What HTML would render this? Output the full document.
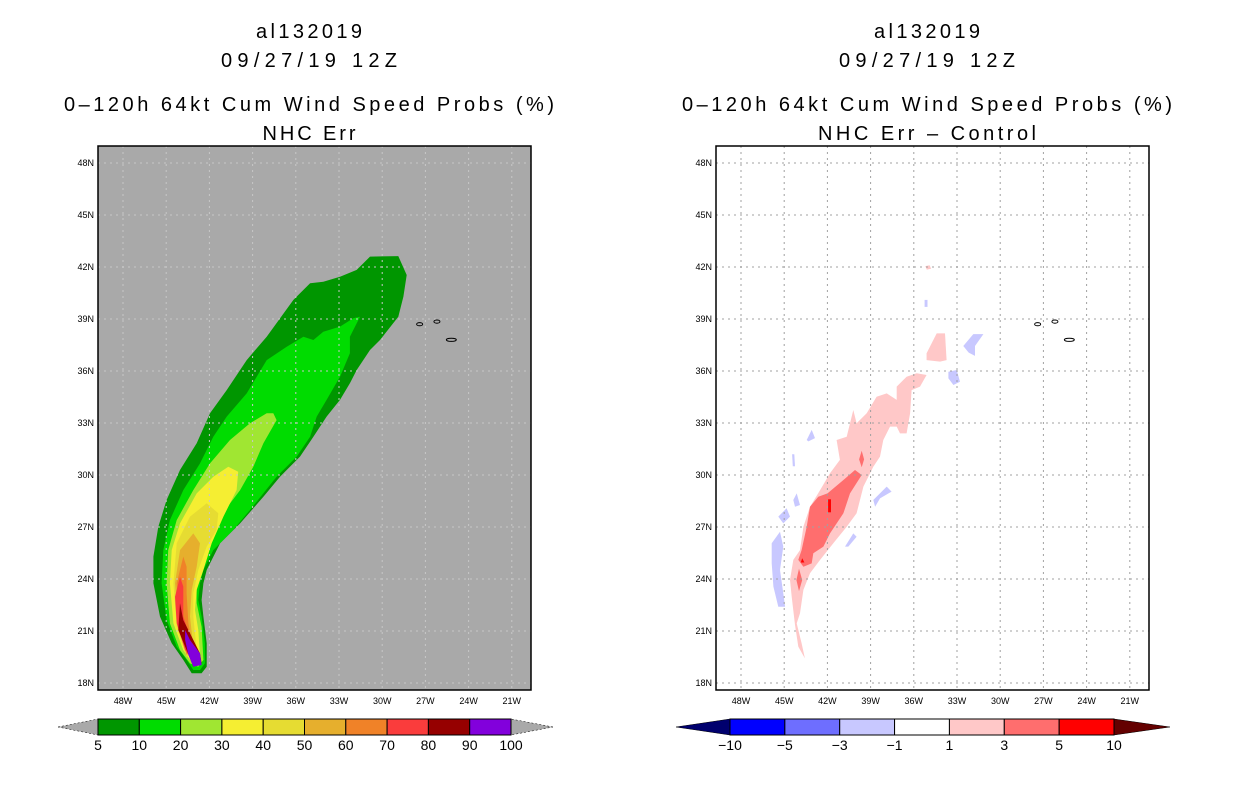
<!DOCTYPE html>
<html><head><meta charset="utf-8"><style>
body{margin:0;background:#fff;}
svg{display:block;font-family:"Liberation Sans",sans-serif;}
</style></head><body>
<svg id="chart" width="1236" height="800" viewBox="0 0 1236 800"></svg>
<script>
const latTicks=[48,45,42,39,36,33,30,27,24,21,18];
const lonTicks=[48,45,42,39,36,33,30,27,24,21];
const leftLevels=[5,10,20,30,40,50,60,70,80,90,100];
const leftColors=["#009600","#00dc00","#a0e632","#f5ee32","#e6dc32","#e6af2d","#f08228","#fa3c3c","#960000","#8200dc"];
const rightLevels=[-10,-5,-3,-1,1,3,5,10];
const rightColors=["#0000ff","#6e6eff","#c8c8ff","#ffffff","#ffc8c8","#ff6e6e","#ff0000"];
const p5=[[30.85,42.6],[28.88,42.63],[28.3,41.54],[28.53,40.29],[28.88,39.13],[30.15,37.79],[30.85,37.21],[31.77,36.06],[32.24,35.29],[32.93,34.33],[33.86,33.37],[34.78,32.21],[35.71,31.06],[37.1,29.9],[38.25,28.75],[39.87,27.21],[41.26,26.06],[42.19,24.52],[42.42,23.75],[42.54,22.79],[42.42,21.83],[42.19,20.29],[42.19,18.94],[42.54,18.56],[43.23,18.56],[43.81,19.33],[44.62,20.29],[45.43,21.83],[45.89,23.75],[45.89,25.29],[45.55,27.02],[44.97,28.56],[44.04,30.29],[42.88,31.83],[41.96,33.56],[40.8,34.9],[39.41,36.63],[38.02,37.98],[36.17,40.1],[35.01,41.06],[34.09,41.15],[32.93,41.44],[31.77,41.83]];
const p10=[[31.54,39.13],[32.24,37.98],[32.24,37.02],[32.93,35.67],[33.86,34.33],[34.55,33.37],[35.01,32.21],[35.94,31.06],[37.33,29.9],[39.18,27.98],[40.34,26.83],[41.73,25.67],[42.42,24.52],[42.65,23.75],[42.77,22.79],[42.54,21.83],[42.31,20.29],[42.31,19.13],[42.65,18.75],[43.12,18.75],[43.58,19.33],[44.27,20.1],[44.97,21.63],[45.32,23.75],[45.2,25.67],[44.74,27.4],[43.81,29.13],[42.65,30.67],[41.73,32.21],[40.8,33.37],[39.41,34.71],[38.02,36.63],[36.63,37.4],[35.47,37.98],[34.78,37.79],[34.09,38.27],[32.93,38.56],[32.01,39.04]];
const p20=[[37.56,33.56],[37.33,33.17],[38.25,31.83],[38.95,30.48],[39.87,29.13],[41.26,27.6],[42.19,26.25],[42.65,24.9],[42.88,23.75],[42.88,22.6],[42.54,21.25],[42.42,19.33],[42.77,18.94],[43.35,19.13],[44.04,19.9],[44.74,21.44],[44.97,23.75],[44.86,25.67],[44.27,27.4],[43.12,29.13],[41.96,30.67],[40.57,32.02],[39.18,32.98],[38.02,33.56]];
const p30=[[40.69,30.48],[40.0,30.19],[40.11,29.13],[41.03,27.6],[41.84,26.06],[42.42,24.52],[42.88,23.37],[43.0,22.21],[42.77,21.06],[42.65,19.52],[43.0,19.13],[43.35,19.33],[43.81,19.9],[44.5,21.44],[44.74,23.75],[44.62,25.67],[44.04,27.21],[42.88,28.94],[41.73,29.9]];
const p40=[[42.19,28.37],[41.38,27.79],[41.5,26.83],[42.19,25.87],[42.77,24.52],[43.12,23.17],[43.12,21.83],[42.88,19.9],[43.58,19.52],[44.27,21.25],[44.5,23.75],[44.27,26.06],[43.35,27.6]];
const p50=[[43.12,26.63],[42.65,26.06],[42.88,24.71],[43.23,23.37],[43.35,21.83],[43.12,20.1],[43.58,19.71],[44.16,21.44],[44.39,23.75],[44.04,25.67]];
const p60=[[43.81,25.29],[43.58,24.71],[43.58,23.17],[43.46,21.44],[43.12,19.9],[43.58,19.62],[44.04,21.44],[44.27,23.75]];
const p70=[[44.04,24.13],[43.81,23.56],[43.81,21.83],[43.35,20.67],[42.77,19.52],[43.12,19.33],[43.69,19.9],[44.27,21.44],[44.39,22.98]];
const p80=[[44.04,22.6],[43.81,21.63],[43.35,20.87],[42.65,19.71],[42.54,19.13],[43.12,18.94],[43.58,19.9],[44.16,21.06]];
const p90=[[43.69,21.06],[43.35,20.48],[42.65,19.71],[42.54,19.04],[43.12,18.94],[43.46,19.62],[43.69,20.48]];
const leftPolys=[p5,p10,p20,p30,p40,p50,p60,p70,p80,p90];
const pinkMain=[[44.6,23.94],[44.37,25.1],[43.9,25.67],[43.67,27.02],[43.21,28.17],[42.51,29.13],[41.82,30.1],[41.13,30.87],[41.36,32.02],[40.66,32.21],[40.2,33.75],[39.97,32.98],[39.27,33.56],[38.58,34.52],[37.88,34.71],[37.19,34.33],[37.19,35.1],[36.5,35.67],[35.8,35.87],[35.11,35.77],[35.57,35.1],[36.15,34.9],[36.26,33.56],[36.5,32.4],[36.96,32.4],[37.19,32.79],[37.65,32.79],[38.12,32.02],[38.35,31.06],[38.81,30.48],[39.5,29.33],[39.97,27.79],[40.66,27.02],[41.59,26.06],[42.51,25.1],[43.21,24.33],[43.67,23.37],[43.9,22.02],[44.13,21.44],[43.79,20.29],[43.56,19.42],[44.02,20.1],[44.25,21.35],[44.48,22.98]];
const pinkB=[[35.11,37.02],[34.41,38.17],[33.83,38.17],[33.72,36.63],[34.18,36.54],[35.11,36.63]];
const pinkC=[[35.2,42.05],[34.9,42.1],[34.8,41.9],[35.1,41.85]];
const red3=[[41.99,28.94],[40.89,29.71],[40.08,30.29],[39.62,30.0],[40.43,28.94],[40.89,27.79],[41.82,26.63],[42.28,25.87],[42.98,25.48],[43.09,24.9],[43.67,24.71],[44.02,25.1],[43.79,25.67],[43.44,27.02],[43.21,28.17],[42.63,28.75]];
const red3b=[[39.62,31.4],[39.45,30.9],[39.62,30.45],[39.8,30.9]];
const red3c=[[43.97,24.6],[43.75,23.94],[43.97,23.3],[44.15,23.94]];
const red5a=[[41.75,28.6],[41.95,28.6],[41.95,27.85],[41.75,27.85]];
const red5b=[[43.75,25.2],[43.6,24.95],[43.85,24.95]];
const blueA=[[45.87,26.06],[45.29,26.73],[45.06,25.87],[45.29,24.52],[45.06,23.17],[44.94,22.4],[45.41,22.4],[45.75,23.56],[45.87,24.9]];
const blueB=[[45.41,27.6],[44.83,28.08],[44.6,27.6],[45.06,27.21]];
const blueC=[[44.37,28.56],[44.13,28.94],[43.9,28.27],[44.25,28.17]];
const blueD=[[43.44,32.02],[43.09,32.6],[42.86,32.13],[43.32,31.94]];
const blueE=[[38.81,28.56],[37.88,29.33],[37.54,29.04],[38.35,28.65],[38.69,28.17]];
const blueF=[[40.78,25.87],[40.2,26.63],[39.97,26.44],[40.55,25.87]];
const blueG=[[32.56,37.44],[31.87,38.13],[31.17,38.13],[31.75,37.44],[31.75,36.87],[32.19,37.06]];
const blueH=[[33.6,35.96],[33.02,36.06],[32.79,35.38],[33.25,35.19],[33.6,35.58]];
const blueI=[[35.25,40.1],[35.05,40.1],[35.05,39.7],[35.25,39.7]];
const blueJ=[[44.45,31.2],[44.3,31.2],[44.25,30.5],[44.4,30.5]];
const rightPolys=[[pinkMain,4],[pinkB,4],[pinkC,4],[red3,5],[red3b,5],[red3c,5],[red5a,6],[red5b,6],[blueA,2],[blueB,2],[blueC,2],[blueD,2],[blueE,2],[blueF,2],[blueG,2],[blueH,2],[blueI,2],[blueJ,2]];
const islands=[[27.4,38.7],[26.2,38.85],[25.2,37.8]];

const NS="http://www.w3.org/2000/svg";
const svg=document.getElementById('chart');
function mk(tag,attrs,parent){const e=document.createElementNS(NS,tag);for(const k in attrs)e.setAttribute(k,attrs[k]);(parent||svg).appendChild(e);return e;}
const PY0=146,PY1=690;
function yS(lat){return 683-(lat-18)*52/3;}
function panel(ox,bg,polys,colorOf,title2,len2,name){
  const x0=ox+98,x1=ox+531;
  const xS=lon=>ox+123+(48-lon)*14.4;
  const g=mk('g',{});
  
  
  const cx=ox+309;
  [['al132019',38,106,'storm-id'],['09/27/19 12Z',67,176,'init-time'],['0\u2013120h 64kt Cum Wind Speed Probs (%)',111,490,'product-title'],[title2,140,len2,'panel-subtitle']].forEach(t=>{
    const e=mk('text',{x:cx,y:t[1],'text-anchor':'middle','font-size':20,fill:'#000',textLength:t[2],lengthAdjust:'spacing'},g);
    e.textContent=t[0];
    
    
  });
  const bgr=mk('rect',{x:x0,y:PY0,width:x1-x0,height:PY1-PY0,fill:bg},g);
  
  
  const cid='clip'+ox;
  const cp=mk('clipPath',{id:cid},g);mk('rect',{x:x0,y:PY0,width:x1-x0,height:PY1-PY0},cp);
  const pg=mk('g',{'clip-path':'url(#'+cid+')'},g);
  polys.forEach(p=>{
    const pts=p[0].map(q=>xS(q[0]).toFixed(1)+','+yS(q[1]).toFixed(1)).join(' ');
    const e=mk('polygon',{points:pts,fill:colorOf(p[1])},pg);
    
    
  });
  const gc=bg=='#fff'?'#a0a0a0':'#c8c8c8';
  lonTicks.forEach(l=>{const e=mk('line',{x1:xS(l),x2:xS(l),y1:PY0,y2:PY1,stroke:gc,'stroke-dasharray':'2,4'},pg);
    });
  latTicks.forEach(l=>{const e=mk('line',{x1:x0,x2:x1,y1:yS(l),y2:yS(l),stroke:gc,'stroke-dasharray':'2,4'},pg);
    });
  islands.forEach(s=>{const e=mk('ellipse',{cx:xS(s[0]),cy:yS(s[1]),rx:s===islands[2]?5:3,ry:1.6,fill:'none',stroke:'#000','stroke-width':1},pg);
    });
  const fr=mk('rect',{x:x0,y:PY0,width:x1-x0,height:PY1-PY0,fill:'none',stroke:'#000','stroke-width':1.5},g);
  
  latTicks.forEach(l=>{const e=mk('text',{x:x0-4,y:yS(l)+3,'text-anchor':'end','font-size':9},g);e.textContent=l+'N';
    });
  lonTicks.forEach(l=>{const e=mk('text',{x:xS(l),y:PY1+14,'text-anchor':'middle','font-size':9},g);e.textContent=l+'W';
    });
}
panel(0,'#a9a9a9',leftPolys.map((p,i)=>[p,i]),i=>leftColors[i],'NHC Err',93,'left-panel');
panel(618,'#fff',rightPolys,i=>rightColors[i],'NHC Err \u2013 Control',218,'right-panel');

function colorbar(bx0,bx1,tipL,tipR,levels,colors,lc,rc,name){
  const g=mk('g',{});
  
  
  const n=colors.length,w=(bx1-bx0)/n,y0=719,y1=735;
  mk('polygon',{points:`${tipL},727 ${bx0},${y0} ${bx0},${y1}`,fill:lc,stroke:'#000','stroke-width':0.5,'stroke-dasharray':lc=='#a9a9a9'?'2,2':'none'},g);
  mk('polygon',{points:`${tipR},727 ${bx1},${y0} ${bx1},${y1}`,fill:rc,stroke:'#000','stroke-width':0.5,'stroke-dasharray':rc=='#a9a9a9'?'2,2':'none'},g);
  colors.forEach((c,i)=>{const e=mk('rect',{x:bx0+i*w,y:y0,width:w,height:y1-y0,fill:c,stroke:'#000','stroke-width':1},g);
    });
  levels.forEach((v,i)=>{const e=mk('text',{x:bx0+i*w,y:750,'text-anchor':'middle','font-size':14},g);
    e.textContent=v<0?'\u2212'+(-v):v;
    });
}
colorbar(98,511,58,553,leftLevels,leftColors,'#a9a9a9','#a9a9a9','left-colorbar');
colorbar(730,1114,676,1170,rightLevels,rightColors,'#00006e','#640000','right-colorbar');
</script>
</body></html>
